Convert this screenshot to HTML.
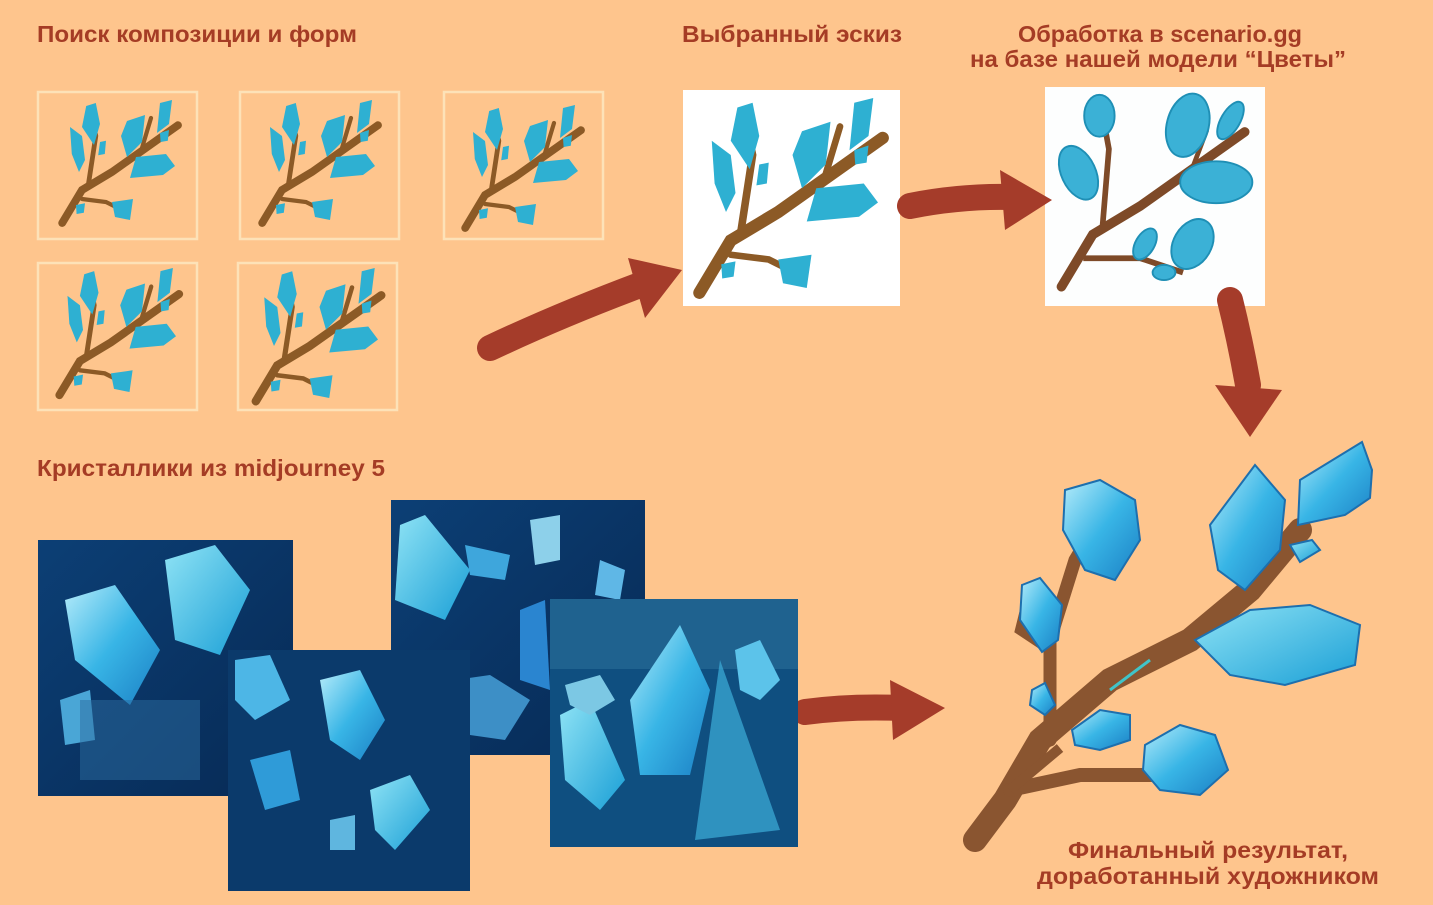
<!DOCTYPE html>
<html><head><meta charset="utf-8"><style>
html,body{margin:0;padding:0;background:#fec58d;}
svg{display:block}
text{font-family:"Liberation Sans","DejaVu Sans",sans-serif;font-weight:bold;fill:#a53c25;font-size:23.5px}
</style></head><body>
<svg width="1433" height="905" viewBox="0 0 1433 905" xmlns="http://www.w3.org/2000/svg">
<defs>
<g id="br">
 <path d="M12,205 L45,150 L95,120 L205,42" stroke="#8c5a26" stroke-width="13" fill="none" stroke-linecap="round"/>
 <path d="M55,145 L68,60 L60,22" stroke="#8c5a26" stroke-width="8" fill="none" stroke-linecap="round"/>
 <path d="M145,80 L160,30" stroke="#8c5a26" stroke-width="7" fill="none" stroke-linecap="round"/>
 <path d="M45,165 L85,170 L115,185" stroke="#8c5a26" stroke-width="7" fill="none" stroke-linecap="round"/>
 <g fill="#2eb0d2">
  <polygon points="52,10 68,5 75,40 65,75 45,45"/>
  <polygon points="25,45 45,60 50,100 40,120 28,90"/>
  <polygon points="120,35 150,25 145,70 120,95 110,60"/>
  <polygon points="175,5 195,0 190,40 170,55"/>
  <polygon points="135,95 185,90 200,110 180,125 125,130"/>
  <polygon points="95,170 130,165 125,200 100,195"/>
  <polygon points="75,70 85,68 83,90 72,92"/>
  <polygon points="35,175 50,172 48,188 36,190"/>
  <polygon points="175,55 190,50 188,68 176,70"/>
 </g>
</g>
<linearGradient id="cg" x1="0" y1="0" x2="1" y2="1"><stop offset="0" stop-color="#0c3f75"/><stop offset="1" stop-color="#072a55"/></linearGradient>
<linearGradient id="cry" x1="0" y1="0" x2="1" y2="1"><stop offset="0" stop-color="#b6ecfa"/><stop offset="0.5" stop-color="#38b5e6"/><stop offset="1" stop-color="#1b7fc4"/></linearGradient>
<linearGradient id="cry2" x1="0" y1="0" x2="1" y2="1"><stop offset="0" stop-color="#8fe3f5"/><stop offset="1" stop-color="#1a9fd6"/></linearGradient>
</defs>

<text x="37" y="42" textLength="320" lengthAdjust="spacingAndGlyphs">Поиск композиции и форм</text>
<text x="682" y="42" textLength="220" lengthAdjust="spacingAndGlyphs">Выбранный эскиз</text>
<text x="1018" y="42" textLength="284" lengthAdjust="spacingAndGlyphs">Обработка в scenario.gg</text>
<text x="970" y="67" textLength="376" lengthAdjust="spacingAndGlyphs">на базе нашей модели “Цветы”</text>
<text x="37" y="476" textLength="348" lengthAdjust="spacingAndGlyphs">Кристаллики из midjourney 5</text>
<text x="1068" y="858" textLength="280" lengthAdjust="spacingAndGlyphs">Финальный результат,</text>
<text x="1037" y="884" textLength="342" lengthAdjust="spacingAndGlyphs">доработанный художником</text>

<g fill="none" stroke="#fde2b8" stroke-width="2.5">
 <rect x="38" y="92" width="159" height="147"/>
 <rect x="240" y="92" width="159" height="147"/>
 <rect x="444" y="92" width="159" height="147"/>
 <rect x="38" y="263" width="159" height="147"/>
 <rect x="238" y="263" width="159" height="147"/>
</g>
<use href="#br" transform="translate(55,100) scale(0.6)"/>
<use href="#br" transform="translate(255,100) scale(0.6)"/>
<use href="#br" transform="translate(458,105) scale(0.6)"/>
<use href="#br" transform="translate(52,268) scale(0.62)"/>
<use href="#br" transform="translate(248,268) scale(0.65)"/>

<rect x="683" y="90" width="217" height="216" fill="#fff"/>
<use href="#br" transform="translate(688,98) scale(0.95)"/>

<rect x="1045" y="87" width="220" height="219" fill="#fdfefe"/>
<g transform="translate(1050,92) scale(0.95)">
 <path d="M12,205 L45,150 L95,120 L205,42" stroke="#7e4a28" stroke-width="10" fill="none" stroke-linecap="round"/>
 <path d="M55,145 L62,60 L55,22" stroke="#7e4a28" stroke-width="6" fill="none"/>
 <path d="M150,80 L165,40" stroke="#7e4a28" stroke-width="5" fill="none"/>
 <path d="M35,175 L95,175 L140,190" stroke="#7e4a28" stroke-width="6" fill="none"/>
 <g fill="#3bb1d6" stroke="#1f8fb5" stroke-width="2">
  <ellipse cx="52" cy="25" rx="16" ry="22"/>
  <ellipse cx="30" cy="85" rx="18" ry="30" transform="rotate(-25 30 85)"/>
  <ellipse cx="145" cy="35" rx="22" ry="34" transform="rotate(15 145 35)"/>
  <ellipse cx="190" cy="30" rx="10" ry="22" transform="rotate(30 190 30)"/>
  <ellipse cx="175" cy="95" rx="38" ry="22"/>
  <ellipse cx="100" cy="160" rx="10" ry="18" transform="rotate(30 100 160)"/>
  <ellipse cx="150" cy="160" rx="20" ry="28" transform="rotate(30 150 160)"/>
  <ellipse cx="120" cy="190" rx="12" ry="8"/>
 </g>
</g>

<g stroke="#a53c2a" stroke-linecap="round" fill="none">
 <path d="M490,348 Q560,315 640,285" stroke-width="26"/>
 <path d="M910,206 Q960,196 1010,197" stroke-width="26"/>
 <path d="M1230,300 Q1240,340 1248,385" stroke-width="26"/>
 <path d="M805,712 Q850,706 900,708" stroke-width="26"/>
</g>
<g fill="#a53c2a">
 <polygon points="628,258 682,270 645,318"/>
 <polygon points="1000,170 1052,200 1005,230"/>
 <polygon points="1215,385 1282,390 1250,437"/>
 <polygon points="890,680 945,708 893,740"/>
</g>

<g>
 <rect x="38" y="540" width="255" height="256" fill="url(#cg)"/>
 <polygon points="65,600 115,585 160,650 130,705 75,660" fill="url(#cry)"/>
 <polygon points="165,560 215,545 250,590 220,655 175,640" fill="url(#cry2)"/>
 <polygon points="60,700 90,690 95,740 65,745" fill="#4aa6d6"/>
 <rect x="80" y="700" width="120" height="80" fill="#2c6c9f" opacity="0.5"/>
 <rect x="391" y="500" width="254" height="255" fill="url(#cg)"/>
 <polygon points="400,525 425,515 470,570 445,620 395,600" fill="url(#cry2)"/>
 <polygon points="465,545 510,555 505,580 470,575" fill="#3ea6dc"/>
 <polygon points="530,520 560,515 560,560 535,565" fill="#8dd0ea"/>
 <polygon points="455,680 490,675 530,700 505,740 470,735" fill="#3d8fc6"/>
 <polygon points="520,610 545,600 550,690 520,680" fill="#2a85d0"/>
 <polygon points="600,560 625,570 620,600 595,595" fill="#5fb7e6"/>
 <rect x="228" y="650" width="242" height="241" fill="#0b3a6b"/>
 <polygon points="235,660 270,655 290,700 255,720 235,700" fill="#4db6e6"/>
 <polygon points="320,680 360,670 385,720 360,760 330,740" fill="url(#cry)"/>
 <polygon points="370,790 410,775 430,810 395,850 375,830" fill="url(#cry2)"/>
 <polygon points="250,760 290,750 300,800 265,810" fill="#2f9bd8"/>
 <polygon points="330,820 355,815 355,850 330,850" fill="#5fb6df"/>
 <rect x="550" y="599" width="248" height="248" fill="#0f4f80"/>
 <rect x="550" y="599" width="248" height="70" fill="#276b96" opacity="0.7"/>
 <polygon points="630,700 680,625 710,690 690,775 640,775" fill="url(#cry)"/>
 <polygon points="560,715 590,700 625,780 600,810 565,780" fill="url(#cry2)"/>
 <polygon points="565,685 600,675 615,700 590,715 570,705" fill="#7cc8e4"/>
 <polygon points="695,840 720,660 780,830" fill="#3ba8d4" opacity="0.75"/>
 <polygon points="735,650 760,640 780,680 760,700 740,690" fill="#5cc3ea"/>
</g>

<g stroke="#1d6fae" stroke-width="2">
 <path d="M975,840 L1005,800 L1040,740 L1110,680 L1190,640 L1250,590 L1300,530" stroke="#8a5530" stroke-width="24" fill="none" stroke-linecap="round"/>
 <path d="M1050,740 L1050,640 L1075,560 L1105,510" stroke="#8a5530" stroke-width="13" fill="none" stroke-linecap="round"/>
 <path d="M1050,650 L1020,630 L1030,590" stroke="#8a5530" stroke-width="10" fill="none"/>
 <path d="M1010,790 L1080,775 L1150,775 L1160,770" stroke="#8a5530" stroke-width="14" fill="none" stroke-linecap="round"/>
 <path d="M1010,790 L1060,748" stroke="#8a5530" stroke-width="10" fill="none"/>
 <path d="M1110,690 L1150,660" stroke="#40c4c8" stroke-width="3" fill="none"/>
 <polygon points="1065,490 1100,480 1135,500 1140,540 1115,580 1085,570 1063,530" fill="url(#cry)"/>
 <polygon points="1210,525 1255,465 1285,500 1280,550 1245,590 1218,570" fill="url(#cry)"/>
 <polygon points="1300,480 1362,442 1372,470 1370,498 1345,515 1298,525" fill="url(#cry)"/>
 <polygon points="1195,640 1250,610 1310,605 1360,625 1355,665 1285,685 1230,675" fill="url(#cry2)"/>
 <polygon points="1022,585 1040,578 1062,605 1058,640 1042,652 1020,620" fill="url(#cry)"/>
 <polygon points="1032,690 1045,683 1055,705 1045,715 1030,705" fill="url(#cry)"/>
 <polygon points="1072,730 1100,710 1130,715 1130,740 1100,750 1075,745" fill="url(#cry)"/>
 <polygon points="1145,745 1180,725 1215,735 1228,770 1200,795 1160,790 1143,770" fill="url(#cry)"/>
 <polygon points="1290,545 1312,540 1320,550 1300,562" fill="url(#cry2)"/>
</g>
</svg>
</body></html>
